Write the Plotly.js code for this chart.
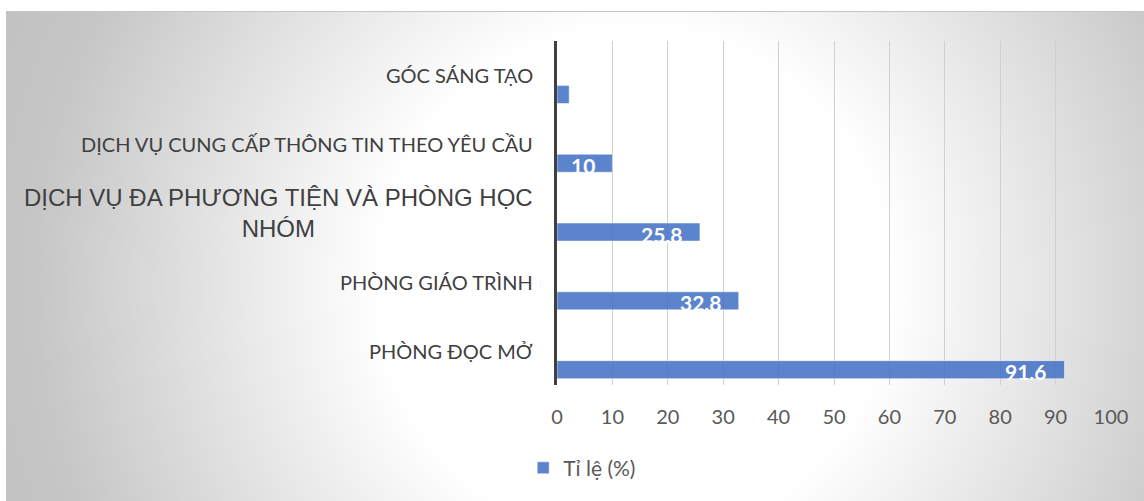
<!DOCTYPE html>
<html>
<head>
<meta charset="utf-8">
<script src="https://cdn.plot.ly/plotly-3.0.1.min.js"></script>
<style>
  html, body { margin: 0; padding: 0; background: #ffffff; }
  #wrap { position: relative; width: 1144px; height: 501px; background: #ffffff; overflow: hidden; }
  #bg { position: absolute; left: 6px; top: 11px; width: 1138px; height: 490px;
        border-top: 1px solid #c6c6c6;
        background: radial-gradient(circle at 628px 272px, #ffffff 0px, #ffffff 255px, #c6c6c6 600px, #c0c0c0 720px); }
  #chart { position: absolute; left: 0; top: 0; width: 1144px; height: 501px; }
</style>
</head>
<body>
<div id="wrap"><div id="bg"></div><div id="chart"></div></div>
<script>
// ---- data ----
const categories = ['PHÒNG ĐỌC MỞ', 'PHÒNG GIÁO TRÌNH', 'DỊCH VỤ ĐA PHƯƠNG TIỆN VÀ PHÒNG HỌC NHÓM', 'DỊCH VỤ CUNG CẤP THÔNG TIN THEO YÊU CẦU', 'GÓC SÁNG TẠO'];
const categoryLabels = ['PHÒNG ĐỌC MỞ', 'PHÒNG GIÁO TRÌNH', 'DỊCH VỤ ĐA PHƯƠNG TIỆN VÀ PHÒNG HỌC<br>NHÓM', 'DỊCH VỤ CUNG CẤP THÔNG TIN THEO YÊU CẦU', 'GÓC SÁNG TẠO'];
const values = [91.6, 32.8, 25.8, 10, 2.2];
const dataLabels = ['91.6', '32.8', '25.8', '10', ''];
const xTickValues = [0, 10, 20, 30, 40, 50, 60, 70, 80, 90, 100];
const seriesName = 'Tỉ lệ (%)';

// ---- styles ----
const calibriLike = 'Lato, "Open Sans", sans-serif';
const arialLike = '"Liberation Sans", Arial, sans-serif';
const catFont = { family: calibriLike, size: 20, color: '#404040' };
const wrappedCatFont = { family: arialLike, size: 24, color: '#404040' };
const labelFont = { family: calibriLike, size: 21, color: '#ffffff', weight: 'bold' };

const trace = {
  type: 'bar',
  orientation: 'h',
  name: seriesName,
  x: values,
  y: categories,
  offset: -0.408,
  width: 0.262,
  marker: { color: 'rgba(68,114,196,0.87)', line: { color: 'rgba(255,255,255,0.5)', width: 1 } },
  textposition: 'none',
  hoverinfo: 'none'
};

const annotations = [];
categories.forEach((c, i) => {
  annotations.push({
    xref: 'paper', yref: 'y', x: 0, y: c, xanchor: 'right', yanchor: 'middle',
    xshift: -22, text: categoryLabels[i], showarrow: false, align: 'center',
    font: categoryLabels[i].includes('<br>') ? wrappedCatFont : catFont
  });
  if (dataLabels[i] !== '') {
    annotations.push({
      xref: 'x', yref: 'y', x: values[i], y: c, xanchor: 'right', yanchor: 'middle',
      xshift: -15, yshift: -21, text: dataLabels[i], showarrow: false, font: labelFont
    });
  }
});

const layout = {
  width: 1144, height: 501,
  margin: { l: 557, r: 33, t: 41, b: 116, pad: 0 },
  paper_bgcolor: 'rgba(0,0,0,0)',
  plot_bgcolor: 'rgba(0,0,0,0)',
  showlegend: true,
  legend: {
    orientation: 'h', x: -0.061, xanchor: 'left', y: -0.182, yanchor: 'top',
    font: { family: calibriLike, size: 21, color: '#595959' },
    bgcolor: 'rgba(255,255,255,0.4)'
  },
  xaxis: {
    range: [0, 100], tickvals: xTickValues, ticktext: xTickValues.map(String),
    showgrid: true, gridcolor: '#d0d0d0', gridwidth: 1,
    zeroline: false, showline: false, ticks: '',
    tickfont: { family: calibriLike, size: 20, color: '#595959' },
    ticklabelstandoff: 18, fixedrange: true
  },
  yaxis: {
    type: 'category', categoryarray: categories, range: [-0.5, 4.5],
    showticklabels: false, showgrid: false, zeroline: false,
    showline: true, linecolor: '#404040', linewidth: 3, ticks: '', fixedrange: true
  },
  annotations: annotations
};

Plotly.newPlot('chart', [trace], layout, { displayModeBar: false, staticPlot: true });
</script>
</body>
</html>
